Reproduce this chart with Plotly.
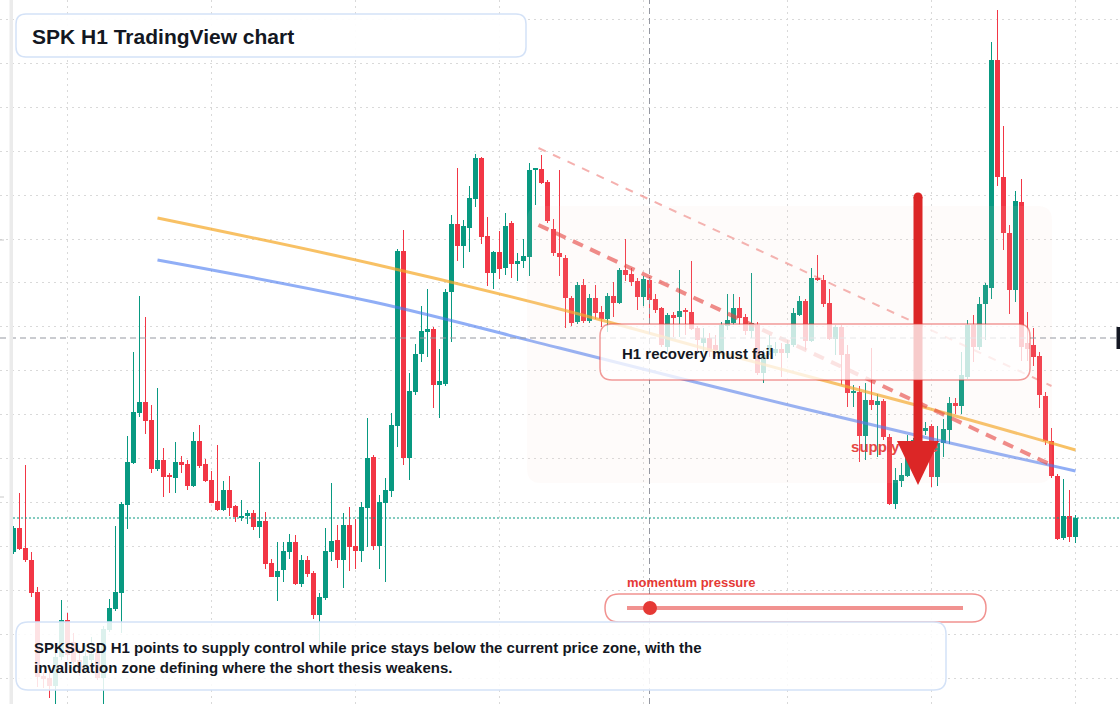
import numpy as np
import pandas as pd
import plotly.graph_objects as go

W, H = 1120, 704
UNIT = 1e-5  # all prices below are quoted in 0.00001 USD

# ---------------- SPKSUSD H1 candles (price in 1e-5 USD) ----------------
open_ = [3648, 3672, 3652, 3640, 3608, 3524, 3522, 3514, 3543, 3580,
         3558, 3540, 3532, 3540, 3547, 3522, 3570, 3591, 3607, 3695,
         3737, 3787, 3798, 3780, 3731, 3740, 3724, 3722, 3738, 3736,
         3714, 3759, 3736, 3720, 3699, 3690, 3710, 3694, 3682, 3684,
         3687, 3673, 3679, 3637, 3623, 3630, 3648, 3658, 3616, 3640,
         3627, 3585, 3602, 3648, 3660, 3640, 3675, 3654, 3649, 3692,
         3743, 3654, 3697, 3709, 3774, 3949, 3742, 3808, 3846, 3868,
         3871, 3815, 3816, 3908, 3976, 3954, 3972, 4001, 4042, 3964,
         3927, 3948, 3932, 3977, 3936, 3939, 3943, 4030, 4031, 4018,
         3971, 3947, 3942, 3902, 3878, 3915, 3879, 3902, 3888, 3881,
         3904, 3897, 3930, 3926, 3919, 3903, 3920, 3901, 3892, 3853,
         3885, 3883, 3889, 3888, 3872, 3857, 3862, 3855, 3848, 3874,
         3877, 3892, 3883, 3869, 3875, 3827, 3848, 3847, 3851, 3847,
         3855, 3885, 3899, 3859, 3922, 3920, 3897, 3861, 3873, 3846,
         3807, 3808, 3764, 3800, 3795, 3799, 3763, 3696, 3719, 3724,
         3747, 3760, 3769, 3774, 3723, 3757, 3770, 3797, 3794, 3823,
         3875, 3853, 3896, 3912, 4140, 4023, 3967, 3910, 3998, 3857,
         3855, 3844, 3804, 3759, 3724, 3662, 3684, 3663]
high = [3674, 3707, 3735, 3648, 3613, 3528, 3527, 3550, 3600, 3587,
        3567, 3552, 3555, 3563, 3555, 3574, 3601, 3674, 3698, 3764,
        3848, 3904, 3883, 3795, 3812, 3752, 3727, 3758, 3744, 3740,
        3768, 3775, 3741, 3729, 3755, 3719, 3724, 3695, 3700, 3690,
        3690, 3738, 3688, 3641, 3658, 3658, 3666, 3665, 3645, 3644,
        3629, 3607, 3672, 3717, 3675, 3687, 3693, 3681, 3698, 3782,
        3745, 3705, 3722, 3787, 3951, 3970, 3827, 3856, 3894, 3911,
        3873, 3851, 3911, 3985, 4032, 3980, 4014, 4046, 4043, 3983,
        3949, 3969, 3987, 3979, 3947, 3961, 4037, 4032, 4045, 4020,
        3981, 4030, 3945, 3904, 3918, 3921, 3906, 3915, 3894, 3907,
        3918, 3932, 3961, 3932, 3922, 3924, 3923, 3906, 3893, 3887,
        3888, 3930, 3892, 3939, 3874, 3872, 3867, 3865, 3878, 3906,
        3906, 3903, 3886, 3927, 3878, 3850, 3865, 3858, 3857, 3860,
        3892, 3904, 3901, 3932, 3945, 3925, 3911, 3875, 3875, 3855,
        3815, 3814, 3817, 3852, 3806, 3801, 3766, 3732, 3737, 3765,
        3762, 3775, 3778, 3776, 3774, 3781, 3803, 3802, 3848, 3880,
        3885, 3903, 3917, 4158, 4190, 4074, 3975, 4009, 4021, 3888,
        3872, 3848, 3808, 3772, 3726, 3721, 3710, 3685]
low = [3646, 3650, 3638, 3603, 3513, 3512, 3502, 3494, 3540, 3540,
       3532, 3524, 3528, 3535, 3520, 3494, 3568, 3589, 3567, 3671,
       3736, 3783, 3766, 3727, 3729, 3703, 3707, 3707, 3727, 3710,
       3713, 3732, 3718, 3697, 3689, 3689, 3684, 3678, 3679, 3676,
       3670, 3662, 3631, 3623, 3599, 3618, 3641, 3615, 3613, 3623,
       3581, 3555, 3600, 3639, 3632, 3612, 3629, 3631, 3638, 3653,
       3650, 3631, 3618, 3703, 3753, 3735, 3720, 3805, 3838, 3843,
       3792, 3782, 3814, 3858, 3939, 3932, 3948, 3993, 3956, 3914,
       3911, 3921, 3925, 3922, 3919, 3932, 3924, 3995, 4016, 3977,
       3944, 3924, 3872, 3874, 3876, 3877, 3877, 3881, 3873, 3868,
       3883, 3896, 3919, 3914, 3890, 3894, 3876, 3887, 3853, 3848,
       3863, 3863, 3865, 3870, 3848, 3848, 3843, 3843, 3845, 3870,
       3875, 3875, 3865, 3862, 3825, 3817, 3845, 3844, 3823, 3842,
       3853, 3884, 3850, 3858, 3919, 3893, 3860, 3845, 3815, 3793,
       3793, 3738, 3740, 3790, 3743, 3760, 3695, 3691, 3713, 3723,
       3738, 3752, 3765, 3713, 3714, 3743, 3756, 3786, 3786, 3821,
       3838, 3850, 3860, 3901, 4014, 3950, 3886, 3898, 3839, 3839,
       3834, 3792, 3755, 3722, 3660, 3660, 3658, 3657]
close = [3672, 3651, 3640, 3607, 3523, 3521, 3514, 3543, 3580, 3545,
         3538, 3530, 3544, 3546, 3522, 3571, 3592, 3608, 3696, 3738,
         3788, 3798, 3779, 3731, 3740, 3723, 3723, 3738, 3735, 3714,
         3759, 3734, 3719, 3697, 3690, 3710, 3692, 3683, 3684, 3687,
         3673, 3679, 3636, 3623, 3629, 3649, 3658, 3616, 3640, 3626,
         3585, 3603, 3649, 3659, 3640, 3675, 3653, 3649, 3693, 3742,
         3654, 3698, 3710, 3775, 3949, 3742, 3809, 3846, 3869, 3871,
         3815, 3819, 3908, 3976, 3954, 3974, 4002, 4042, 3963, 3927,
         3948, 3931, 3974, 3936, 3939, 3944, 4030, 4031, 4017, 3979,
         3947, 3943, 3902, 3877, 3915, 3879, 3902, 3887, 3881, 3904,
         3897, 3930, 3925, 3918, 3903, 3921, 3900, 3890, 3855, 3885,
         3882, 3889, 3888, 3871, 3860, 3862, 3848, 3850, 3875, 3880,
         3892, 3882, 3869, 3877, 3827, 3845, 3855, 3851, 3847, 3856,
         3887, 3899, 3859, 3922, 3920, 3896, 3861, 3873, 3845, 3807,
         3809, 3764, 3800, 3795, 3799, 3763, 3696, 3720, 3725, 3747,
         3760, 3769, 3772, 3723, 3757, 3771, 3797, 3794, 3825, 3875,
         3853, 3896, 3915, 4140, 4023, 3967, 3910, 3999, 3853, 3851,
         3843, 3805, 3759, 3724, 3661, 3684, 3663, 3682]

# overlays (candle index, price in 1e-5 USD)
ma_idx = [24, 60, 91, 121, 151, 177]
ma_fast = [3982, 3936, 3891, 3842, 3794, 3750]   # orange
ma_slow = [3940, 3898, 3852, 3807, 3764, 3729]   # blue
chan_idx = [87.5, 173.0]
chan_upper = [4052, 3814]
chan_lower = [3975, 3735]
cross_idx, cross_price = 106, 3862
supply_label_idx, supply_label_price = 139.6, 3752

TEAL, RED = "#089981", "#f23645"
START = pd.Timestamp("2025-09-14 15:00")


def t(i):
    return START + pd.Timedelta(hours=float(i))


def px(x):
    return x / W


def py(y):
    return 1 - y / H


n = len(open_)
o = np.array(open_) * UNIT
h = np.array(high) * UNIT
l = np.array(low) * UNIT
c = np.array(close) * UNIT
times = [t(i) for i in range(n)]
up = c >= o
colors = [TEAL if u else RED for u in up]

fig = go.Figure()

# wicks
for flag, col in [(True, TEAL), (False, RED)]:
    xs, ys = [], []
    for i in range(n):
        if up[i] == flag:
            xs += [times[i], times[i], None]
            ys += [h[i], l[i], None]
    fig.add_trace(go.Scatter(x=xs, y=ys, mode="lines", line=dict(color=col, width=1),
                             hoverinfo="skip", showlegend=False))

# bodies
base = np.minimum(o, c)
height = np.maximum(np.abs(c - o), 1.2 * UNIT)
fig.add_trace(go.Bar(x=times, y=height, base=base, width=5 / 6 * 3600000,
                     marker=dict(color=colors, line=dict(width=0)),
                     hoverinfo="skip", showlegend=False))

# moving averages
fig.add_trace(go.Scatter(x=[t(i) for i in ma_idx], y=np.array(ma_fast) * UNIT, mode="lines",
                         line=dict(color="rgba(245,166,35,0.7)", width=3, shape="spline"),
                         hoverinfo="skip", showlegend=False))
fig.add_trace(go.Scatter(x=[t(i) for i in ma_idx], y=np.array(ma_slow) * UNIT, mode="lines",
                         line=dict(color="rgba(70,120,240,0.6)", width=3, shape="spline"),
                         hoverinfo="skip", showlegend=False))
# descending channel
fig.add_trace(go.Scatter(x=[t(i) for i in chan_idx], y=np.array(chan_upper) * UNIT, mode="lines",
                         line=dict(color="rgba(229,57,53,0.4)", width=2, dash="8px,8px"),
                         hoverinfo="skip", showlegend=False))
fig.add_trace(go.Scatter(x=[t(i) for i in chan_idx], y=np.array(chan_lower) * UNIT, mode="lines",
                         line=dict(color="rgba(229,57,53,0.62)", width=4, dash="11px,8px"),
                         hoverinfo="skip", showlegend=False))
# supply zone label (under the arrow head)
fig.add_trace(go.Scatter(x=[t(supply_label_idx)], y=[supply_label_price * UNIT], mode="text",
                         text=["<b>supply zone</b>"], textposition="middle right",
                         textfont=dict(family="Liberation Sans, Arial, sans-serif", size=15, color="#e53935"),
                         hoverinfo="skip", showlegend=False))


def rrect(x0, y0, x1, y1, r):
    P = lambda x, y: f"{px(x):.6f},{py(y):.6f}"
    return (f"M{P(x0 + r, y0)} L{P(x1 - r, y0)} Q{P(x1, y0)} {P(x1, y0 + r)} "
            f"L{P(x1, y1 - r)} Q{P(x1, y1)} {P(x1 - r, y1)} L{P(x0 + r, y1)} "
            f"Q{P(x0, y1)} {P(x0, y1 - r)} L{P(x0, y0 + r)} Q{P(x0, y0)} {P(x0 + r, y0)} Z")


shapes = []
PP = dict(xref="paper", yref="paper", layer="above")
# faint resistance zone
shapes.append(dict(type="path", path=rrect(527, 206, 1052, 483, 14),
                   fillcolor="rgba(240,215,195,0.09)", line=dict(width=0), **PP))
# crosshair
shapes.append(dict(type="line", xref="paper", yref="y", x0=0, x1=1,
                   y0=cross_price * UNIT, y1=cross_price * UNIT, layer="above",
                   line=dict(color="#9598a1", width=1, dash="6px,4px")))
shapes.append(dict(type="line", xref="x", yref="paper", x0=t(cross_idx), x1=t(cross_idx),
                   y0=0, y1=1, layer="above", line=dict(color="#9598a1", width=1, dash="6px,4px")))
# last price line
shapes.append(dict(type="line", xref="paper", yref="y", x0=px(13), x1=1,
                   y0=close[-1] * UNIT, y1=close[-1] * UNIT, layer="above",
                   line=dict(color=TEAL, width=1, dash="2px,2px")))
# arrow
shapes.append(dict(type="line", x0=px(918), x1=px(918), y0=py(197), y1=py(446),
                   line=dict(color="#dc2626", width=9), **PP))
shapes.append(dict(type="circle", x0=px(913.5), x1=px(922.5), y0=py(192.5), y1=py(201.5),
                   fillcolor="#dc2626", line=dict(width=0), **PP))
shapes.append(dict(type="path",
                   path=f"M{px(897)},{py(441)} L{px(939)},{py(441)} L{px(918)},{py(485)} Z",
                   fillcolor="#dc2626", line=dict(width=0), **PP))
# recovery box
shapes.append(dict(type="path", path=rrect(600, 324, 1030, 380, 12),
                   fillcolor="rgba(255,255,255,0.76)",
                   line=dict(color="rgba(229,57,53,0.5)", width=1.5), **PP))
# momentum pill
shapes.append(dict(type="path", path=rrect(605, 594, 986, 622, 14),
                   fillcolor="rgba(255,255,255,0.9)",
                   line=dict(color="rgba(229,57,53,0.55)", width=1.5), **PP))
shapes.append(dict(type="line", x0=px(627), x1=px(963), y0=py(608), y1=py(608),
                   line=dict(color="rgba(229,57,53,0.55)", width=4), **PP))
shapes.append(dict(type="circle", x0=px(643), x1=px(657), y0=py(601), y1=py(615),
                   fillcolor="#e53935", line=dict(width=0), **PP))
# bottom note box
shapes.append(dict(type="path", path=rrect(16, 622, 946, 690, 12),
                   fillcolor="rgba(255,255,255,0.86)",
                   line=dict(color="#d4e2f7", width=1.5), **PP))
# title box
shapes.append(dict(type="path", path=rrect(16, 14, 526, 57, 10),
                   fillcolor="rgba(255,255,255,0.95)",
                   line=dict(color="#d4e2f7", width=1.5), **PP))
# frame bits
shapes.append(dict(type="rect", x0=px(9.5), x1=px(13), y0=0, y1=1,
                   fillcolor="#ebebeb", line=dict(width=0), **PP))
shapes.append(dict(type="rect", x0=px(1116.5), x1=px(1125), y0=py(349), y1=py(327),
                   fillcolor="#131722", line=dict(width=0), **PP))
for yy in (240, 497):
    shapes.append(dict(type="line", x0=0, x1=px(4), y0=py(yy), y1=py(yy),
                       line=dict(color="#c8c8c8", width=1), **PP))

FONT = "Liberation Sans, Arial, sans-serif"
DARK = "#131722"
ann = [
    dict(x=px(30), y=py(36), text="<b>SPK H1 TradingView chart</b>",
         font=dict(family=FONT, size=21, color=DARK)),
    dict(x=px(620), y=py(353), text="<b>H1 recovery must fail</b>",
         font=dict(family=FONT, size=15, color=DARK)),
    dict(x=px(32), y=py(657),
         text="<b>SPKSUSD H1 points to supply control while price stays below the current price zone, with the"
              "<br>invalidation zone defining where the short thesis weakens.</b>",
         font=dict(family=FONT, size=15, color=DARK), align="left"),
    dict(x=px(625), y=py(582), text="<b>momentum pressure</b>",
         font=dict(family=FONT, size=13, color="#e53935")),
]
for a in ann:
    a.update(xref="paper", yref="paper", xanchor="left", yanchor="middle", showarrow=False)

fig.update_layout(
    width=W, height=H, margin=dict(l=0, r=0, t=0, b=0, pad=0),
    paper_bgcolor="white", plot_bgcolor="white", showlegend=False,
    bargap=0, shapes=shapes, annotations=ann,
    xaxis=dict(type="date", range=[t(-2.25), t((W - 13.5) / 6)], showgrid=True,
               gridcolor="#d9d9d9", griddash="2px,4px", gridwidth=1,
               tick0="2025-09-15 00:00", dtick=86400000,
               showticklabels=False, ticks="", zeroline=False, showline=False,
               rangeslider=dict(visible=False), fixedrange=True),
    yaxis=dict(range=[3496 * UNIT, 4200 * UNIT], showgrid=True,
               gridcolor="#d9d9d9", griddash="2px,4px", gridwidth=1,
               tick0=0.041805, dtick=0.000439,
               showticklabels=False, ticks="", zeroline=False, showline=False, fixedrange=True),
)

fig.write_html("out.html")
